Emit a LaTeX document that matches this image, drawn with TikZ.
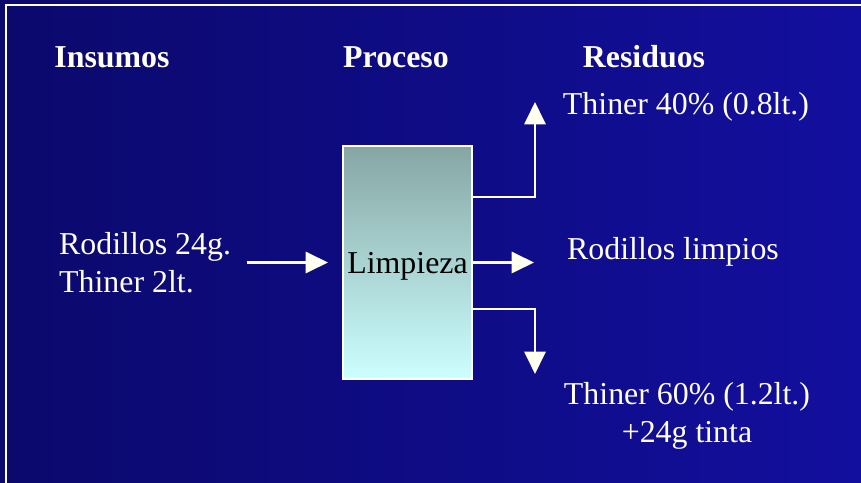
\documentclass[tikz,border=0pt]{standalone}
\usepackage{fontspec}
\setmainfont{Liberation Serif}
\usetikzlibrary{arrows.meta}

\definecolor{fondoIzq}{RGB}{11,9,108}
\definecolor{fondoDer}{RGB}{19,15,158}
\definecolor{marfil}{RGB}{255,255,240}
\definecolor{cajaArriba}{RGB}{134,166,164}
\definecolor{cajaAbajo}{RGB}{204,255,255}

\tikzset{
  titulo/.style={text=marfil, inner sep=0pt,
    font=\fontsize{27.2}{32.3}\selectfont\bfseries},
  texto/.style={text=marfil, inner sep=0pt,
    font=\fontsize{27.2}{32.3}\selectfont},
  caja/.style={draw=marfil, line width=1.2pt, inner sep=0pt,
    top color=cajaArriba, bottom color=cajaAbajo,
    minimum width=3.87cm, minimum height=6.99cm, text depth=0pt,
    font=\fontsize{27.2}{32.3}\selectfont},
  flecha/.style={draw=marfil, line width=2.1pt,
    -{Triangle[length=19pt, width=18pt]}}
}

\begin{document}
\begin{tikzpicture}[
  x=0.03cm,
  y=-0.03cm,
  line cap=butt,
  line join=miter
]
  % Fondo y marco
  \useasboundingbox (0,0) rectangle (861,483);
  \shade[left color=fondoIzq, right color=fondoDer]
    (0,0) rectangle (861,483);
  \draw[marfil, line width=1.9pt] (6,483) -- (6,5) -- (861,5);

  % Encabezados
  \node[titulo] (insumos) at (112,57) {Insumos};
  \node[titulo] (proceso) at (396,57) {Proceso};
  \node[titulo] (residuos) at (644,57) {Residuos};

  % Proceso
  \node[caja] (limp) at (407.5,262.5) {Limpieza};

  % Entradas
  \node[texto, align=left, anchor=west] (entrada) at (59,263)
    {Rodillos 24g.\\Thiner 2lt.};

  % Salidas
  \node[texto] (sal1) at (686,107) {Thiner 40\% (0.8lt.)};
  \node[texto] (sal2) at (673,252) {Rodillos limpios};
  \node[texto, align=center] (sal3) at (687,416)
    {Thiner 60\% (1.2lt.)\\+24g tinta};

  % Puntos de las flechas
  \coordinate (e0) at (247,262.5);
  \coordinate (e1) at (328,262.5);
  \coordinate (a0) at (472,197);
  \coordinate (a1) at (535,102);
  \coordinate (m1) at (534,262.5);
  \coordinate (b0) at (472,309);
  \coordinate (b1) at (535,374);

  % Flechas
  \draw[flecha] (e0) -- (e1);
  \draw[flecha] (a0) -| (a1);
  \draw[flecha] (limp.east) -- (m1);
  \draw[flecha] (b0) -| (b1);
\end{tikzpicture}
\end{document}
